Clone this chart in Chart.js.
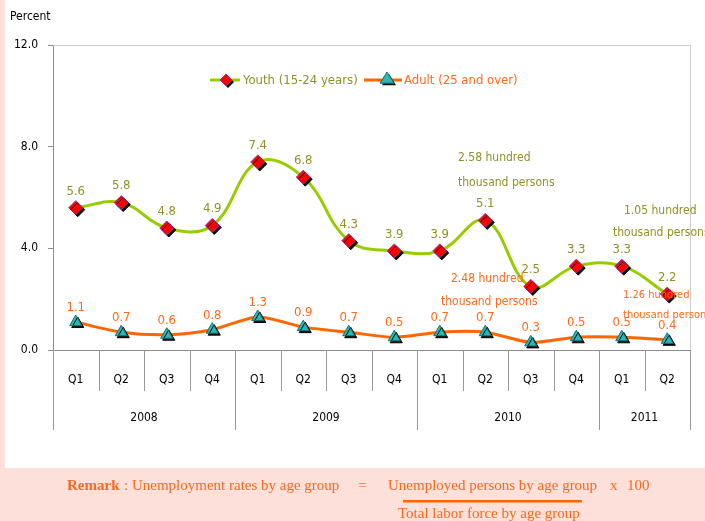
<!DOCTYPE html>
<html>
<head>
<meta charset="utf-8">
<script src="https://cdn.jsdelivr.net/npm/chart.js@4/dist/chart.umd.min.js"></script>
<style>
  html, body { margin:0; padding:0; background:#fde0d9; }
  #wrap { width:705px; height:521px; }
</style>
</head>
<body>
<div id="wrap"><canvas id="chart" width="705" height="521"></canvas></div>
<script>
// ===== data =====
const quarters = ['Q1','Q2','Q3','Q4','Q1','Q2','Q3','Q4','Q1','Q2','Q3','Q4','Q1','Q2'];
const years = ['2008','2009','2010','2011'];
const yearSpans = [4, 4, 4, 2];
const youth = [5.6, 5.8, 4.8, 4.9, 7.4, 6.8, 4.3, 3.9, 3.9, 5.1, 2.5, 3.3, 3.3, 2.2];
const adult = [1.1, 0.7, 0.6, 0.8, 1.3, 0.9, 0.7, 0.5, 0.7, 0.7, 0.3, 0.5, 0.5, 0.4];
const youthName = 'Youth (15-24 years)';
const adultName = 'Adult (25 and over)';
const yMin = 0, yMax = 12, yStep = 4;

const FONT = '"DejaVu Sans Condensed", "Liberation Sans", sans-serif';
const OLIVE = '#8f8f2a', ORANGE = '#ff6a1a';
const GREEN = '#99cc00', ORANGE_LINE = '#ff6600';
const TEAL = '#2fb5b5', RED = '#ff0000';

function shadowOn(ctx){
    ctx.shadowColor = 'rgba(0,0,0,0.95)';
    ctx.shadowOffsetX = 2; ctx.shadowOffsetY = 2; ctx.shadowBlur = 0;
}

function drawDiamond(ctx, x, y, r){
    ctx.save(); shadowOn(ctx);
    ctx.beginPath();
    ctx.moveTo(x, y-r); ctx.lineTo(x+r, y); ctx.lineTo(x, y+r); ctx.lineTo(x-r, y); ctx.closePath();
    ctx.fillStyle = RED; ctx.fill();
    ctx.restore();
    ctx.strokeStyle = '#993399'; ctx.lineWidth = 1; ctx.stroke();
}
function drawTriangle(ctx, x, y, r){
    ctx.save(); shadowOn(ctx);
    ctx.beginPath();
    ctx.moveTo(x, y-r); ctx.lineTo(x+r, y+r*0.6); ctx.lineTo(x-r, y+r*0.6); ctx.closePath();
    ctx.fillStyle = TEAL; ctx.fill();
    ctx.restore();
    ctx.strokeStyle = '#127373'; ctx.lineWidth = 1; ctx.stroke();
}

const decor = {
    id: 'decor',
    beforeDraw(chart){
        const ctx = chart.ctx;
        ctx.save();
        ctx.fillStyle = '#fde0d9';
        ctx.fillRect(0, 0, chart.width, chart.height);
        ctx.fillStyle = '#ffffff';
        ctx.fillRect(5, 0, 700, 468);
        ctx.fillStyle = '#000';
        ctx.font = '12px ' + FONT;
        ctx.textBaseline = 'middle';
        ctx.fillText('Percent', 10, 17);
        ctx.restore();
    },
    beforeDatasetsDraw(chart){
        const ctx = chart.ctx, a = chart.chartArea, x = chart.scales.x;
        ctx.save();
        // plot frame (top / right)
        ctx.strokeStyle = '#cccccc'; ctx.lineWidth = 1;
        ctx.beginPath();
        ctx.moveTo(a.left, a.top + 0.5); ctx.lineTo(a.right + 0.5, a.top + 0.5); ctx.lineTo(a.right + 0.5, a.bottom);
        ctx.stroke();
        // x baseline
        ctx.strokeStyle = '#8c8c8c';
        ctx.beginPath(); ctx.moveTo(a.left - 5, a.bottom + 0.5); ctx.lineTo(a.right + 0.5, a.bottom + 0.5); ctx.stroke();
        // category dividers
        const n = quarters.length;
        const edge = i => i === 0 ? a.left : i === n ? a.right : (x.getPixelForValue(i-1) + x.getPixelForValue(i)) / 2;
        const yearEdges = [0];
        yearSpans.forEach(s => yearEdges.push(yearEdges[yearEdges.length-1] + s));
        ctx.strokeStyle = '#999999';
        for (let i = 0; i <= n; i++){
            const px = Math.round(edge(i)) + 0.5;
            const len = yearEdges.includes(i) ? 80 : 41;
            ctx.beginPath(); ctx.moveTo(px, a.bottom); ctx.lineTo(px, a.bottom + len); ctx.stroke();
        }
        ctx.fillStyle = '#000';
        ctx.font = '12px ' + FONT;
        ctx.textAlign = 'center'; ctx.textBaseline = 'middle';
        quarters.forEach((q, i) => ctx.fillText(q, x.getPixelForValue(i), a.bottom + 30));
        years.forEach((yr, k) => {
            const cx = (edge(yearEdges[k]) + edge(yearEdges[k+1])) / 2;
            ctx.fillText(yr, cx, a.bottom + 68);
        });
        ctx.restore();
    },
    beforeDatasetDraw(chart, args){
        const ds = chart.data.datasets[args.index];
        if (ds.shadow){ chart.ctx.save(); shadowOn(chart.ctx); }
    },
    afterDatasetDraw(chart, args){
        const ds = chart.data.datasets[args.index];
        if (ds.shadow) chart.ctx.restore();
    },
    afterDatasetsDraw(chart){
        const ctx = chart.ctx;
        ctx.save();
        ctx.textAlign = 'center'; ctx.textBaseline = 'bottom';
        // value labels
        ctx.font = '13px ' + FONT;
        ctx.fillStyle = OLIVE;
        chart.getDatasetMeta(3).data.forEach((p, i) => ctx.fillText(youth[i].toFixed(1), p.x, p.y - 10));
        ctx.fillStyle = ORANGE;
        chart.getDatasetMeta(2).data.forEach((p, i) => ctx.fillText(adult[i].toFixed(1), p.x, p.y - 8));

        // notes
        ctx.font = '12px ' + FONT;
        ctx.textAlign = 'left'; ctx.textBaseline = 'middle';
        ctx.fillStyle = OLIVE;
        ctx.fillText('2.58 hundred', 458, 158);
        ctx.fillText('thousand persons', 458, 183);
        ctx.fillText('1.05 hundred', 624, 211);
        ctx.fillText('thousand persons', 613, 233);
        ctx.fillStyle = ORANGE;
        ctx.fillText('2.48 hundred', 451, 279);
        ctx.fillText('thousand persons', 441, 302);
        ctx.font = '11px ' + FONT;
        ctx.fillText('1.26 hundred', 623, 295);
        ctx.fillText('thousand persons', 623, 315);

        // legend
        ctx.lineWidth = 3;
        ctx.strokeStyle = GREEN;
        ctx.beginPath(); ctx.moveTo(210, 80); ctx.lineTo(240, 80); ctx.stroke();
        drawDiamond(ctx, 226, 80, 6);
        ctx.strokeStyle = ORANGE_LINE; ctx.lineWidth = 3;
        ctx.beginPath(); ctx.moveTo(364, 80); ctx.lineTo(402, 80); ctx.stroke();
        drawTriangle(ctx, 387, 79, 7);
        ctx.font = '13px ' + FONT;
        ctx.fillStyle = OLIVE; ctx.fillText(youthName, 243, 81);
        ctx.fillStyle = ORANGE; ctx.fillText(adultName, 404, 81);

        // remark
        const SERIF = '"Liberation Serif", "Times New Roman", serif';
        ctx.fillStyle = '#f26a1d';
        ctx.font = 'bold 15px ' + SERIF;
        ctx.fillText('Remark', 67, 486);
        ctx.font = '15px ' + SERIF;
        ctx.fillText(': Unemployment rates by age group', 124, 486);
        ctx.fillText('=', 358, 486);
        ctx.fillText('Unemployed persons by age group', 388, 486);
        ctx.fillText('x', 610, 486);
        ctx.fillText('100', 627, 486);
        ctx.fillStyle = '#ff6600';
        ctx.fillRect(403, 500, 179, 2.5);
        ctx.fillStyle = '#f26a1d';
        ctx.fillText('Total labor force by age group', 398, 514);
        ctx.restore();
    }
};

const ctxChart = document.getElementById('chart').getContext('2d');
const chart = new Chart(ctxChart, {
    type: 'line',
    data: {
        labels: quarters,
        datasets: [
            { label: youthName, data: youth, borderColor: GREEN, borderWidth: 3, tension: 0.4, pointRadius: 0, order: 2 },
            { label: adultName, data: adult, borderColor: ORANGE_LINE, borderWidth: 3, tension: 0.25, pointRadius: 0, order: 3 },
            { label: adultName, data: adult, showLine: false, pointStyle: 'triangle', pointRadius: 7,
              pointBackgroundColor: TEAL, pointBorderColor: '#127373', pointBorderWidth: 1, shadow: true, order: 1 },
            { label: youthName, data: youth, showLine: false, pointStyle: 'rectRot', pointRadius: 7,
              pointBackgroundColor: RED, pointBorderColor: '#993399', pointBorderWidth: 1, shadow: true, order: 0 }
        ]
    },
    options: {
        responsive: false, animation: false, devicePixelRatio: 1,
        layout: { padding: { top: 45, right: 15, bottom: 171, left: 0 } },
        scales: {
            x: { type: 'category', offset: true, display: false },
            y: {
                min: yMin, max: yMax,
                ticks: { stepSize: yStep, padding: 10, color: '#000', font: { size: 12, family: FONT }, callback: v => v.toFixed(1) },
                grid: { drawOnChartArea: false, tickLength: 5, color: '#8c8c8c' },
                border: { color: '#8c8c8c', width: 1 },
                afterFit: s => { s.width = 53; }
            }
        },
        plugins: { legend: { display: false }, tooltip: { enabled: false } }
    },
    plugins: [decor]
});
</script>
</body>
</html>
